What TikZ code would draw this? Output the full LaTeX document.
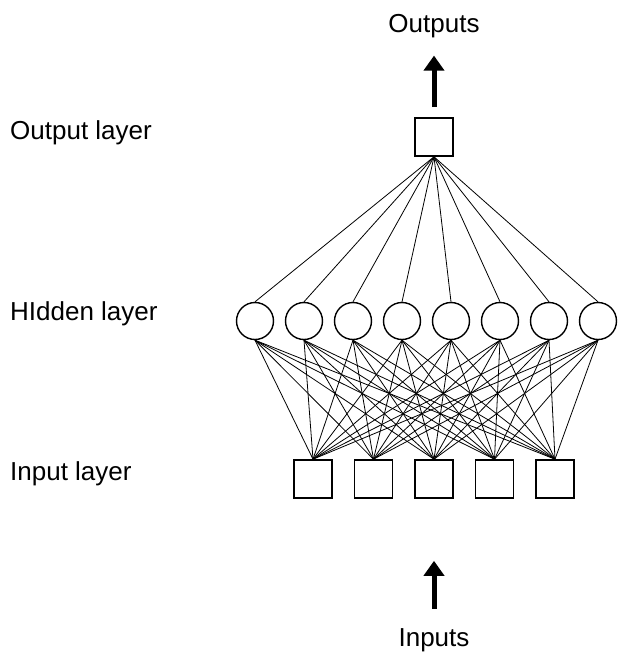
\documentclass[tikz,border=0pt]{standalone}
\usepackage{fontspec}
\setmainfont{Liberation Sans}
\usetikzlibrary{arrows.meta}

\tikzset{
    UnitBox/.style={rectangle, draw, line width=1.6pt, minimum size=38pt, inner sep=0pt},
    HiddenUnit/.style={circle, draw, line width=1.4pt, minimum size=37pt, inner sep=0pt},
    LayerLabel/.style={anchor=base west, inner sep=0pt},
    FlowLabel/.style={anchor=base, inner sep=0pt},
    BigArrow/.style={line width=5pt, -{Triangle[length=15pt,width=20pt]}}
}

\begin{document}
\begin{tikzpicture}[x=1pt, y=-1pt, font=\fontsize{26}{31}\selectfont]

\useasboundingbox (0,0) rectangle (618,657);

% Output layer
\node (O) at (434,137) [UnitBox] {};

% Hidden layer
\node (H1) at (255,321) [HiddenUnit] {};
\node (H2) at (304,321) [HiddenUnit] {};
\node (H3) at (353,321) [HiddenUnit] {};
\node (H4) at (402,321) [HiddenUnit] {};
\node (H5) at (451,321) [HiddenUnit] {};
\node (H6) at (500,321) [HiddenUnit] {};
\node (H7) at (549,321) [HiddenUnit] {};
\node (H8) at (598,321) [HiddenUnit] {};

% Input layer
\node (I1) at (313,479) [UnitBox] {};
\node (I2) at (373.5,479) [UnitBox] {};
\node (I3) at (434,479) [UnitBox] {};
\node (I4) at (494.5,479) [UnitBox] {};
\node (I5) at (555,479) [UnitBox] {};

% Texts
\node (Out) at (434,32) [FlowLabel] {Outputs};
\node (In) at (434,646) [FlowLabel] {Inputs};

\node (LO) at (10,139) [LayerLabel] {Output layer};
\node (LH) at (10,320) [LayerLabel] {HIdden layer};
\node (LI) at (10,480) [LayerLabel] {Input layer};

% Weights
\begin{scope}[every edge/.style={draw, line width=0.8pt}]
    \foreach \h in {1,...,8} {
        \path (O.south) edge (H\h.north);
        \foreach \i in {1,...,5}
            \path (H\h.south) edge (I\i.north);
    }
\end{scope}

% Flow arrows
\draw [BigArrow, shorten <=10pt, shorten >=18pt] (O.north) -- (Out.south);
\draw [BigArrow, shorten <=19pt, shorten >=62pt] (In.north) -- (I3.south);

\end{tikzpicture}
\end{document}
